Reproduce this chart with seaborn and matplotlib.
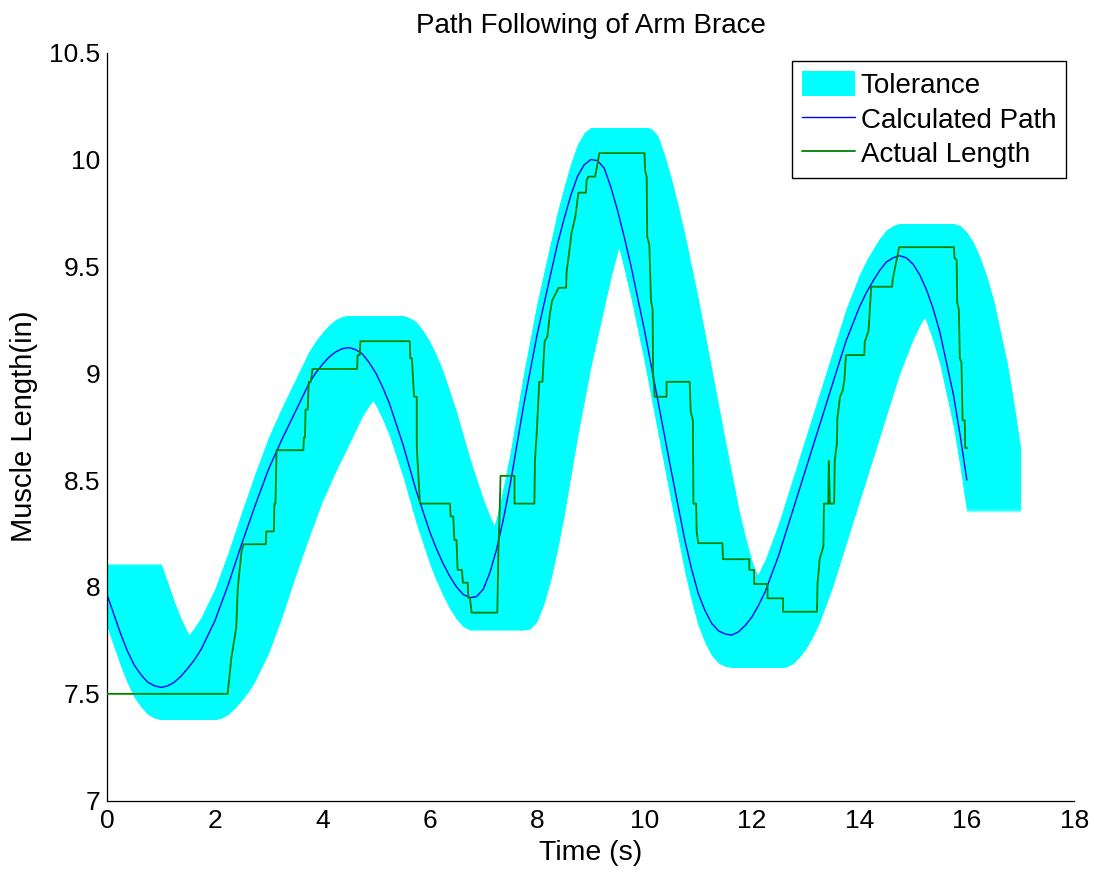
import numpy as np
import pandas as pd
import matplotlib
matplotlib.use("Agg")
import matplotlib.pyplot as plt
import seaborn as sns
from matplotlib.patches import Patch
from matplotlib.lines import Line2D

# ---------------- data ----------------
path_time = [0.0, 0.25, 0.375, 0.5, 0.625, 0.75, 0.875, 1.0, 1.125, 1.25, 1.375, 1.5,
             1.625, 1.75, 2.0, 2.25, 2.5, 2.75, 3.0, 3.25, 3.5, 3.75, 3.875, 4.0,
             4.125, 4.25, 4.375, 4.5, 4.625, 4.75, 4.875, 5.0, 5.125, 5.25, 5.5, 5.75,
             6.0, 6.125, 6.25, 6.375, 6.5, 6.625, 6.75, 6.875, 7.0, 7.125, 7.25, 7.375,
             7.5, 7.75, 8.0, 8.25, 8.375, 8.5, 8.625, 8.75, 8.875, 9.0, 9.125, 9.25,
             9.375, 9.5, 9.625, 9.75, 10.0, 10.25, 10.5, 10.75, 10.875, 11.0, 11.125, 11.25,
             11.375, 11.5, 11.625, 11.75, 11.875, 12.0, 12.125, 12.25, 12.5, 12.75, 13.0, 13.25,
             13.5, 13.75, 14.0, 14.125, 14.25, 14.375, 14.5, 14.625, 14.75, 14.875, 15.0, 15.125,
             15.25, 15.375, 15.5, 15.75, 15.875, 16.0]
path_length = [7.96, 7.78, 7.70, 7.635, 7.59, 7.555, 7.538, 7.53, 7.537, 7.555, 7.583, 7.62,
               7.66, 7.71, 7.84, 8.01, 8.20, 8.38, 8.55, 8.69, 8.82, 8.95, 9.00, 9.04,
               9.075, 9.10, 9.115, 9.12, 9.11, 9.09, 9.05, 9.00, 8.935, 8.86, 8.67, 8.45,
               8.26, 8.18, 8.11, 8.05, 8.00, 7.965, 7.95, 7.955, 7.99, 8.07, 8.18, 8.32,
               8.48, 8.85, 9.18, 9.46, 9.60, 9.72, 9.83, 9.92, 9.975, 10.00, 9.995, 9.96,
               9.87, 9.76, 9.635, 9.50, 9.20, 8.87, 8.54, 8.22, 8.085, 7.97, 7.89, 7.83,
               7.795, 7.78, 7.775, 7.79, 7.82, 7.86, 7.915, 7.98, 8.15, 8.35, 8.55, 8.75,
               8.95, 9.15, 9.31, 9.375, 9.43, 9.48, 9.52, 9.54, 9.55, 9.54, 9.51, 9.46,
               9.39, 9.30, 9.19, 8.90, 8.71, 8.50]

actual_time = [0.0, 2.24, 2.31, 2.40, 2.43, 2.50, 2.54, 2.95, 2.96, 3.10, 3.11, 3.13,
               3.14, 3.15, 3.65, 3.66, 3.68, 3.69, 3.73, 3.75, 3.79, 3.82, 4.65, 4.66,
               4.70, 4.71, 5.63, 5.64, 5.67, 5.71, 5.76, 5.76, 5.82, 6.38, 6.39, 6.44,
               6.46, 6.50, 6.52, 6.60, 6.62, 6.71, 6.72, 6.75, 6.78, 7.26, 7.28, 7.30,
               7.32, 7.58, 7.58, 7.95, 7.96, 8.00, 8.04, 8.10, 8.14, 8.19, 8.24, 8.28,
               8.40, 8.54, 8.55, 8.60, 8.64, 8.71, 8.77, 8.91, 8.92, 8.95, 9.08, 9.11,
               9.16, 10.00, 10.01, 10.04, 10.05, 10.09, 10.12, 10.15, 10.16, 10.19, 10.41, 10.41,
               10.84, 10.86, 10.90, 10.91, 10.96, 10.97, 11.00, 11.45, 11.46, 11.95, 11.95, 12.04,
               12.04, 12.29, 12.29, 12.58, 12.58, 13.21, 13.22, 13.26, 13.33, 13.34, 13.42, 13.43,
               13.45, 13.53, 13.54, 13.58, 13.59, 13.64, 13.69, 13.72, 13.75, 14.09, 14.10, 14.12,
               14.17, 14.22, 14.61, 14.62, 14.68, 14.74, 15.76, 15.77, 15.81, 15.82, 15.85, 15.87,
               15.90, 15.92, 15.96, 15.97, 16.01]
actual_length = [7.50, 7.50, 7.67, 7.81, 8.00, 8.17, 8.20, 8.20, 8.26, 8.26, 8.39, 8.39,
                 8.52, 8.64, 8.64, 8.70, 8.70, 8.83, 8.83, 8.96, 8.96, 9.02, 9.02, 9.085,
                 9.085, 9.15, 9.15, 9.07, 9.07, 8.89, 8.89, 8.66, 8.39, 8.39, 8.33, 8.33,
                 8.22, 8.22, 8.08, 8.08, 8.02, 8.02, 7.95, 7.95, 7.88, 7.88, 8.17, 8.32,
                 8.52, 8.52, 8.39, 8.39, 8.59, 8.75, 8.96, 8.96, 9.15, 9.17, 9.28, 9.34,
                 9.40, 9.40, 9.475, 9.57, 9.655, 9.73, 9.845, 9.845, 9.90, 9.92, 9.92, 9.96,
                 10.03, 10.03, 9.95, 9.92, 9.64, 9.60, 9.34, 9.30, 9.00, 8.89, 8.89, 8.96,
                 8.96, 8.82, 8.78, 8.39, 8.39, 8.26, 8.205, 8.205, 8.13, 8.13, 8.08, 8.08,
                 8.014, 8.014, 7.947, 7.947, 7.884, 7.884, 8.014, 8.13, 8.19, 8.39, 8.39, 8.59,
                 8.39, 8.39, 8.59, 8.67, 8.79, 8.89, 8.92, 8.97, 9.085, 9.085, 9.15, 9.16,
                 9.20, 9.405, 9.405, 9.44, 9.515, 9.59, 9.59, 9.54, 9.53, 9.33, 9.30, 9.07,
                 9.05, 8.78, 8.78, 8.65, 8.65]

TOL_LENGTH = 0.15   # +/- tolerance on length (in)
TOL_DELAY = 1.0     # allowed time lag (s)

x_ticks = [0, 2, 4, 6, 8, 10, 12, 14, 16, 18]
y_ticks = [7, 7.5, 8, 8.5, 9, 9.5, 10, 10.5]
y_tick_labels = ["7", "7.5", "8", "8.5", "9", "9.5", "10", "10.5"]

# ---------------- style ----------------
sns.set_style("white")
plt.rcParams["font.family"] = ["Liberation Sans", "DejaVu Sans"]
plt.rcParams["text.color"] = "black"
plt.rcParams["axes.labelcolor"] = "black"

path_df = pd.DataFrame({"t": path_time, "v": path_length})
act_df = pd.DataFrame({"t": actual_time, "v": actual_length})

fig = plt.figure(figsize=(10.94, 8.73), dpi=100)
ax = fig.add_axes([0.09808, 0.08282, 0.88391, 0.85682])

# tolerance band: path shifted by 0..TOL_DELAY seconds, +/- TOL_LENGTH
pt = np.asarray(path_time)
pv = np.asarray(path_length)
for d in np.linspace(0, TOL_DELAY, 201):
    ax.fill_between(pt + d, pv - TOL_LENGTH, pv + TOL_LENGTH,
                    color="#00ffff", lw=0, zorder=1)

sns.lineplot(data=path_df, x="t", y="v", ax=ax, color="#0000ff", lw=1.0,
             sort=False, estimator=None, zorder=2)
sns.lineplot(data=act_df, x="t", y="v", ax=ax, color="#008000", lw=1.3,
             sort=False, estimator=None, zorder=3)

ax.set_xlim(0, 18)
ax.set_ylim(7, 10.5)
ax.set_xticks(x_ticks)
ax.set_xticklabels([str(v) for v in x_ticks])
ax.set_yticks(y_ticks)
ax.set_yticklabels(y_tick_labels)

for s in ["top", "right"]:
    ax.spines[s].set_visible(False)
for s in ["left", "bottom"]:
    ax.spines[s].set_color("black")
    ax.spines[s].set_linewidth(0.9)

ax.tick_params(axis="both", direction="in", length=7, width=0.9,
               colors="black", labelsize=19)
ax.tick_params(axis="x", pad=6)
ax.tick_params(axis="y", pad=5)

ax.set_title("Path Following of Arm Brace", fontsize=20, pad=14, color="black")
ax.set_xlabel("Time (s)", fontsize=20.5, labelpad=5, color="black")
ax.set_ylabel("Muscle Length(in)", fontsize=21, labelpad=8, color="black")

handles = [Patch(facecolor="#00ffff", edgecolor="none"),
           Line2D([0], [0], color="#0000ff", lw=1.0),
           Line2D([0], [0], color="#008000", lw=1.3)]
labels = ["Tolerance", "Calculated Path", "Actual Length"]
leg = ax.legend(handles, labels, loc="upper right", fontsize=20,
                frameon=True, fancybox=False, edgecolor="black", framealpha=1,
                borderaxespad=0.3, handlelength=1.9, handleheight=1.0,
                handletextpad=0.22, labelspacing=0.25, borderpad=0.35)
leg.get_frame().set_linewidth(1.0)
for txt in leg.get_texts():
    txt.set_color("black")

fig.savefig("out.png", dpi=100)
